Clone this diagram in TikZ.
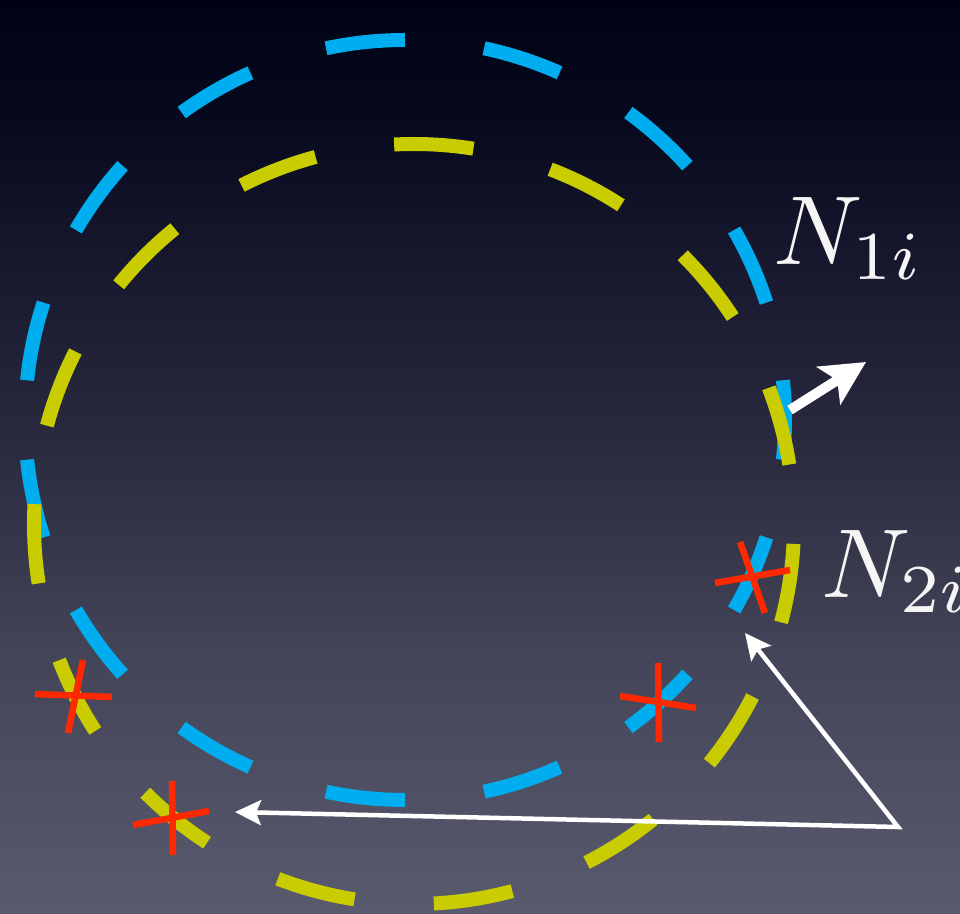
\RequirePackage{fix-cm}
\documentclass[tikz,border=0pt]{standalone}
\usetikzlibrary{arrows.meta,calc}
\definecolor{cblue}{RGB}{0,174,239}
\definecolor{cyell}{RGB}{200,204,0}
\definecolor{cred}{RGB}{255,40,0}
\definecolor{bgtop}{RGB}{0,2,20}
\definecolor{bgtopb}{RGB}{6,8,30}
\definecolor{bgup}{RGB}{22,23,44}
\definecolor{bgmid}{RGB}{42,42,64}
\definecolor{bglow}{RGB}{68,68,88}
\definecolor{bgbot}{RGB}{90,90,110}
\pgfdeclareverticalshading{bgshade}{100bp}{color(0bp)=(bgbot); color(25bp)=(bgbot); color(39.4bp)=(bglow); color(50.4bp)=(bgmid); color(61.3bp)=(bgup); color(69bp)=(bgtopb); color(75bp)=(bgtop); color(100bp)=(bgtop)}
\tikzset{
  dashseg/.style={line width=14pt, line cap=butt},
  crossline/.style={cred, line width=6.5pt, line cap=butt},
  bigarrow/.style={white, line width=10pt, -{Stealth[length=44pt,width=44pt,inset=10pt]}},
  thinarrow/.style={white, line width=4.5pt, line join=miter, {Stealth[length=26pt,width=25pt,inset=5pt]}-{Stealth[length=26pt,width=25pt,inset=5pt]}},
  lbl/.style={white!96!black, anchor=base west, inner sep=0pt, font=\fontsize{10}{12}\selectfont, scale=9.8, transform shape}
}
\begin{document}
\begin{tikzpicture}[x=1pt,y=1pt]
\useasboundingbox (0,0) rectangle (960,913);
\fill[shading=bgshade] (0,0) rectangle (960,913);
% blue dashed circle
\coordinate (bc) at (405,493);
\foreach \k in {0,...,14} {
  \pgfmathsetmacro{\a}{90+24*\k}
  \draw[dashseg, cblue] ($(bc)+(\a:380)$) arc[start angle=\a, delta angle=12, radius=380];
}
% yellow dashed circle
\coordinate (yc) at (414,389);
\foreach \k in {0,...,14} {
  \pgfmathsetmacro{\a}{-15+24*\k}
  \draw[dashseg, cyell] ($(yc)+(\a:380)$) arc[start angle=\a, delta angle=12, radius=380];
}
% red crosses
\coordinate (c1a) at (715,330); \coordinate (c1b) at (790,343);
\coordinate (c1c) at (740,371); \coordinate (c1d) at (765,300);
\coordinate (c2a) at (35,219); \coordinate (c2b) at (112,216);
\coordinate (c2c) at (83,253); \coordinate (c2d) at (68,180);
\coordinate (c3a) at (133,88); \coordinate (c3b) at (209,102);
\coordinate (c3c) at (172,132); \coordinate (c3d) at (173,58);
\coordinate (c4a) at (620,217); \coordinate (c4b) at (696,205);
\coordinate (c4c) at (658,250); \coordinate (c4d) at (659,171);
\foreach \c in {c1,c2,c3,c4} {
  \draw[crossline] (\c a) -- (\c b);
  \draw[crossline] (\c c) -- (\c d);
}
% arrows
\coordinate (bs) at (790,503);
\coordinate (bt) at (866,551);
\draw[bigarrow] (bs) -- (bt);
\coordinate (corner) at (898,86);
\coordinate (tipU) at (745,280);
\coordinate (tipL) at (235,101);
\draw[thinarrow] (tipL) -- (corner) -- (tipU);
% labels
\node[lbl] (n1) at (772,648) {$N_{1i}$};
\node[lbl] (n2) at (820,315) {$N_{2i}$};
\end{tikzpicture}
\end{document}
